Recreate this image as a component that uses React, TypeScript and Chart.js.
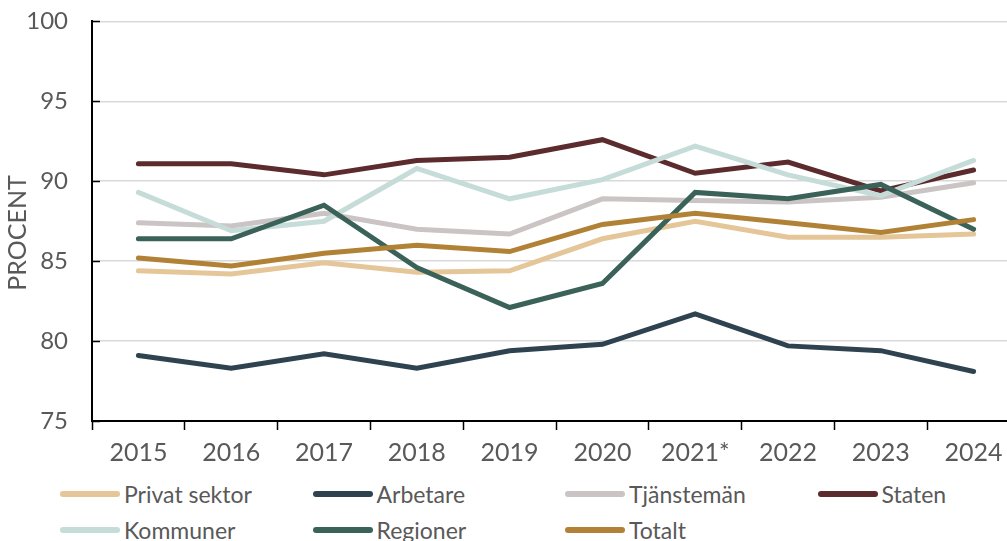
import React, { useEffect, useRef } from "react";
import { Chart, registerables } from "chart.js";

Chart.register(...registerables);

const categories = ["2015", "2016", "2017", "2018", "2019", "2020", "2021*", "2022", "2023", "2024"];

const privatSektor = [84.4, 84.2, 84.9, 84.3, 84.4, 86.4, 87.5, 86.5, 86.5, 86.7];
const arbetare = [79.1, 78.3, 79.2, 78.3, 79.4, 79.8, 81.7, 79.7, 79.4, 78.1];
const tjansteman = [87.4, 87.2, 88.0, 87.0, 86.7, 88.9, 88.8, 88.7, 89.0, 89.9];
const staten = [91.1, 91.1, 90.4, 91.3, 91.5, 92.6, 90.5, 91.2, 89.4, 90.7];
const kommuner = [89.3, 86.9, 87.5, 90.8, 88.9, 90.1, 92.2, 90.4, 89.1, 91.3];
const regioner = [86.4, 86.4, 88.5, 84.6, 82.1, 83.6, 89.3, 88.9, 89.8, 87.0];
const totalt = [85.2, 84.7, 85.5, 86.0, 85.6, 87.3, 88.0, 87.4, 86.8, 87.6];

const seriesNames = ["Privat sektor", "Arbetare", "Tjänstemän", "Staten", "Kommuner", "Regioner", "Totalt"];
const seriesData = [privatSektor, arbetare, tjansteman, staten, kommuner, regioner, totalt];
const seriesColors = ["#E5C698", "#2F4250", "#CBC4C4", "#5C2B2E", "#C6DCD8", "#3B6259", "#B18236"];

const yTicks = [75, 80, 85, 90, 95, 100];
const yTitle = "PROCENT";

const FONT = "Lato, 'Open Sans', sans-serif";
const TEXT = "#595959";
const CANVAS_TOP = -17;

const innerTicksPlugin = {
  id: "innerTicks",
  afterDraw(chart: any) {
    const ctx = chart.ctx;
    const y = chart.scales.y;
    ctx.save();
    ctx.strokeStyle = "#000";
    ctx.lineWidth = 1.5;
    y.ticks.forEach((_t: any, i: number) => {
      const py = Math.round(y.getPixelForTick(i)) + 0.5;
      ctx.beginPath();
      ctx.moveTo(y.right, py);
      ctx.lineTo(y.right + 8, py);
      ctx.stroke();
    });
    ctx.translate(18, 233 - CANVAS_TOP);
    ctx.rotate(-Math.PI / 2);
    ctx.fillStyle = TEXT;
    ctx.font = `25px ${FONT}`;
    ctx.textAlign = "center";
    ctx.textBaseline = "middle";
    ctx.fillText(yTitle, 0, 0);
    ctx.restore();
  },
};

export default function App() {
  const ref = useRef<HTMLCanvasElement>(null);

  useEffect(() => {
    if (!ref.current) return;
    const n = seriesNames.length;
    const chart = new Chart(ref.current, {
      type: "line",
      data: {
        labels: categories,
        datasets: seriesNames.map((name, i) => ({
          label: name,
          data: seriesData[i],
          borderColor: seriesColors[i],
          backgroundColor: seriesColors[i],
          borderWidth: 5,
          borderCapStyle: "round" as const,
          borderJoinStyle: "miter" as const,
          pointRadius: 0,
          tension: 0,
          fill: false,
          order: n - i,
        })),
      },
      options: {
        responsive: false,
        animation: false,
        layout: { padding: { top: 7, right: 2, bottom: 0, left: 0 } },
        plugins: {
          legend: { display: false },
          tooltip: { enabled: false },
        },
        scales: {
          x: {
            type: "category",
            offset: true,
            grid: {
              drawOnChartArea: false,
              drawTicks: true,
              tickLength: 9,
              tickColor: "#000",
              tickWidth: 1.5,
              offset: true,
            },
            border: { color: "#000", width: 2 },
            ticks: {
              autoSkip: false,
              maxRotation: 0,
              minRotation: 0,
              padding: 8,
              color: TEXT,
              font: { family: FONT, size: 25 },
            },
            afterFit(scale: any) {
              scale.height = 49;
            },
          },
          y: {
            min: 75,
            max: 100,
            afterBuildTicks(scale: any) {
              scale.ticks = yTicks.map((v) => ({ value: v }));
            },
            grid: {
              color: "#D9D9D9",
              lineWidth: 1.5,
              drawTicks: false,
            },
            border: { color: "#000", width: 2 },
            ticks: {
              padding: 24,
              color: TEXT,
              font: { family: FONT, size: 24 },
            },
            afterFit(scale: any) {
              scale.width = 92;
            },
          },
        },
      },
      plugins: [innerTicksPlugin],
    });
    return () => chart.destroy();
  }, []);

  const legendRows = [seriesNames.slice(0, 4), seriesNames.slice(4)];

  return (
    <div
      style={{
        position: "fixed",
        left: 0,
        top: 0,
        width: 1007,
        height: 541,
        overflow: "hidden",
        background: "#fff",
      }}
    >
      <canvas
        ref={ref}
        width={1022}
        height={487}
        style={{ position: "absolute", left: 0, top: CANVAS_TOP }}
      />
      {legendRows.map((row, r) =>
        row.map((name, c) => {
          const idx = r * 4 + c;
          return (
            <div
              key={name}
              style={{
                position: "absolute",
                left: 60 + c * 252.5,
                top: 494 + r * 36 - 15,
                height: 30,
                display: "flex",
                alignItems: "center",
                fontFamily: FONT,
                fontSize: 23,
                color: TEXT,
                whiteSpace: "nowrap",
              }}
            >
              <span
                style={{
                  display: "inline-block",
                  width: 60,
                  height: 6,
                  borderRadius: 3,
                  background: seriesColors[idx],
                  marginRight: 4,
                }}
              />
              <span>{name}</span>
            </div>
          );
        })
      )}
    </div>
  );
}
